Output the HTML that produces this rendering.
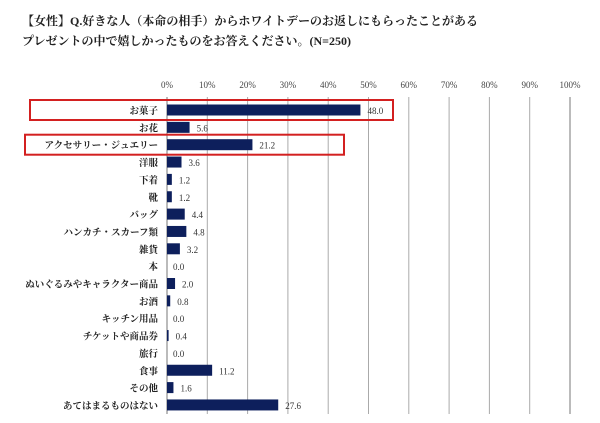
<!DOCTYPE html>
<html><head><meta charset="utf-8"><style>
body{margin:0;background:#fff;width:600px;height:423px;overflow:hidden;font-family:"Liberation Serif","Noto Serif CJK SC","Noto Sans CJK JP",serif;}
.t{position:absolute;left:22px;font-size:12px;color:#222;font-weight:bold;white-space:nowrap}
</style></head><body>
<div class="t" style="top:12px">【女性】Q.好きな人（本命の相手）からホワイトデーのお返しにもらったことがある</div>
<div class="t" style="top:32px">プレゼントの中で嬉しかったものをお答えください。(N=250)</div>
<svg id="c" width="600" height="423" style="position:absolute;left:0;top:0"></svg>
<script>
const categories=["お菓子","お花","アクセサリー・ジュエリー","洋服","下着","靴","バッグ","ハンカチ・スカーフ類","雑貨","本","ぬいぐるみやキャラクター商品","お酒","キッチン用品","チケットや商品券","旅行","食事","その他","あてはまるものはない"];
const values=[48.0,5.6,21.2,3.6,1.2,1.2,4.4,4.8,3.2,0.0,2.0,0.8,0.0,0.4,0.0,11.2,1.6,27.6];
const ticks=[0,10,20,30,40,50,60,70,80,90,100];
const highlighted=[0,2];
const NS="http://www.w3.org/2000/svg",svg=document.getElementById('c');
const x=v=>167+v*4.03, y=i=>110+i*17.35;
function mk(t,a){const e=document.createElementNS(NS,t);for(const k in a)e.setAttribute(k,a[k]);svg.appendChild(e);return e;}
ticks.forEach(t=>{
 const l=mk('line',{x1:x(t),x2:x(t),y1:97,y2:414,stroke:(t===0||t===100)?'#777':'#aaa','stroke-width':1});
 
 
 const tx=mk('text',{x:x(t),y:88,'text-anchor':'middle','font-size':9,fill:'#444'});tx.textContent=t+'%';
 
 
});
categories.forEach((c,i)=>{
 const yy=y(i);
 const lb=mk('text',{x:158,y:yy+4,'text-anchor':'end','font-size':9.5,fill:'#222','font-weight':'bold'});lb.textContent=c;
 
 
 if(values[i]>0){const r=mk('rect',{x:x(0),y:yy-5.5,width:x(values[i])-x(0),height:11,fill:'#0d1f5c'});
 
 }
 const v=mk('text',{x:x(values[i])+(values[i]>0?7:6),y:yy+4,'font-size':9,fill:'#333'});v.textContent=values[i].toFixed(1);
 
 
});
highlighted.forEach((i,k)=>{
 const yy=y(i);
 const b=mk('rect',{x:k===0?30:25,y:yy-10,width:k===0?363:319,height:20,fill:'none',stroke:'#d32020','stroke-width':2});
 
 
});
</script>
</body></html>
